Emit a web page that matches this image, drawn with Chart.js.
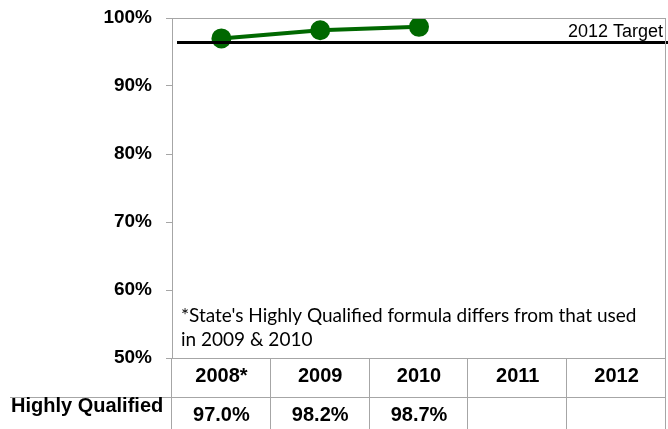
<!DOCTYPE html>
<html>
<head>
<meta charset="utf-8">
<script src="https://cdn.jsdelivr.net/npm/chart.js@4"></script>
<style>
html,body{margin:0;padding:0;background:#fff;}
#wrap{width:668px;height:429px;position:relative;}
</style>
</head>
<body>
<div id="wrap"><canvas id="c" width="668" height="429"></canvas></div>
<script>
const categories = ['2008*', '2009', '2010', '2011', '2012'];
const highlyQualified = [97.0, 98.2, 98.7, null, null];
const rowLabel = 'Highly Qualified';
const targetValue = 96.4;
const targetLabel = '2012 Target';
const footnoteLines = ["*State's Highly Qualified formula differs from that used", 'in 2009 & 2010'];

const GRAY = '#a6a6a6';
const GREEN = 'rgb(0,104,0)';
const BOLD = 'bold 20px "Liberation Sans", Arial, sans-serif';

const tablePlugin = {
  id: 'tablePlugin',
  afterDraw(chart) {
    const ctx = chart.ctx;
    const ca = chart.chartArea;
    const xs = chart.scales.x;
    const ys = chart.scales.y;
    const W = chart.width;
    ctx.save();
    // target line and label
    const ty = ys.getPixelForValue(targetValue);
    ctx.strokeStyle = '#000';
    ctx.lineWidth = 3;
    ctx.beginPath();
    ctx.moveTo(ca.left + 5, ty);
    ctx.lineTo(W, ty);
    ctx.stroke();
    ctx.fillStyle = '#000';
    ctx.font = '18px "Liberation Sans", Arial, sans-serif';
    ctx.textAlign = 'right';
    ctx.textBaseline = 'alphabetic';
    ctx.fillText(targetLabel, ca.right - 3, ty - 5);

    // plot frame (top and right)
    ctx.strokeStyle = GRAY;
    ctx.lineWidth = 1;
    ctx.beginPath();
    ctx.moveTo(ca.left, ca.top + 0.5);
    ctx.lineTo(ca.right, ca.top + 0.5);
    ctx.moveTo(ca.right - 0.5, ca.top);
    ctx.lineTo(ca.right - 0.5, chart.height);
    ctx.stroke();

    // data table
    const n = categories.length;
    const step = (ca.right - ca.left) / n;
    const row1Top = ca.bottom;
    const row2Top = ca.bottom + 39;
    ctx.beginPath();
    ctx.moveTo(ca.left, row1Top + 0.5);
    ctx.lineTo(ca.right, row1Top + 0.5);
    ctx.moveTo(10, row2Top + 0.5);
    ctx.lineTo(ca.right, row2Top + 0.5);
    for (let i = 0; i <= n; i++) {
      const x = Math.round(ca.left + i * step) - 0.5;
      ctx.moveTo(x, row1Top);
      ctx.lineTo(x, chart.height);
    }
    ctx.stroke();

    ctx.fillStyle = '#000';
    ctx.font = BOLD;
    ctx.textAlign = 'center';
    ctx.textBaseline = 'middle';
    categories.forEach((c, i) => {
      const x = xs.getPixelForValue(i);
      ctx.fillText(c, x, row1Top + 18);
      const v = highlyQualified[i];
      if (v !== null) ctx.fillText(v.toFixed(1) + '%', x, row2Top + 18);
    });
    ctx.textAlign = 'left';
    ctx.fillText(rowLabel, 11, row2Top + 9);

    // footnote
    ctx.font = '19px Lato, "Open Sans", sans-serif';
    ctx.textAlign = 'left';
    ctx.textBaseline = 'middle';
    ctx.fillText(footnoteLines[0], ca.left + 9, 316);
    ctx.fillText(footnoteLines[1], ca.left + 9, 340);
    ctx.restore();
  }
};

const chart = new Chart(document.getElementById('c'), {
  type: 'line',
  data: {
    labels: categories,
    datasets: [{
      label: rowLabel,
      data: highlyQualified,
      borderColor: GREEN,
      backgroundColor: GREEN,
      borderWidth: 4,
      pointRadius: 8,
      pointHoverRadius: 8,
      pointBackgroundColor: GREEN,
      pointBorderColor: GREEN,
      tension: 0
    }]
  },
  options: {
    responsive: false,
    animation: false,
    devicePixelRatio: 1,
    layout: { autoPadding: false, padding: { top: 18, right: 2, bottom: 71, left: 0 } },
    plugins: { legend: { display: false }, tooltip: { enabled: false } },
    scales: {
      x: { type: 'category', offset: true, display: false },
      y: {
        min: 50,
        max: 100,
        ticks: {
          stepSize: 10,
          padding: 14,
          color: '#000',
          font: { family: '"Liberation Sans", Arial, sans-serif', size: 19, weight: 'bold' },
          callback: v => v + '%'
        },
        grid: { drawOnChartArea: false, tickLength: 6, color: GRAY },
        border: { display: true, color: GRAY },
        afterFit(scale) {
          scale.width = 172;
          scale.paddingTop = 0;
          scale.paddingBottom = 0;
        }
      }
    }
  },
  plugins: [tablePlugin]
});
</script>
</body>
</html>
